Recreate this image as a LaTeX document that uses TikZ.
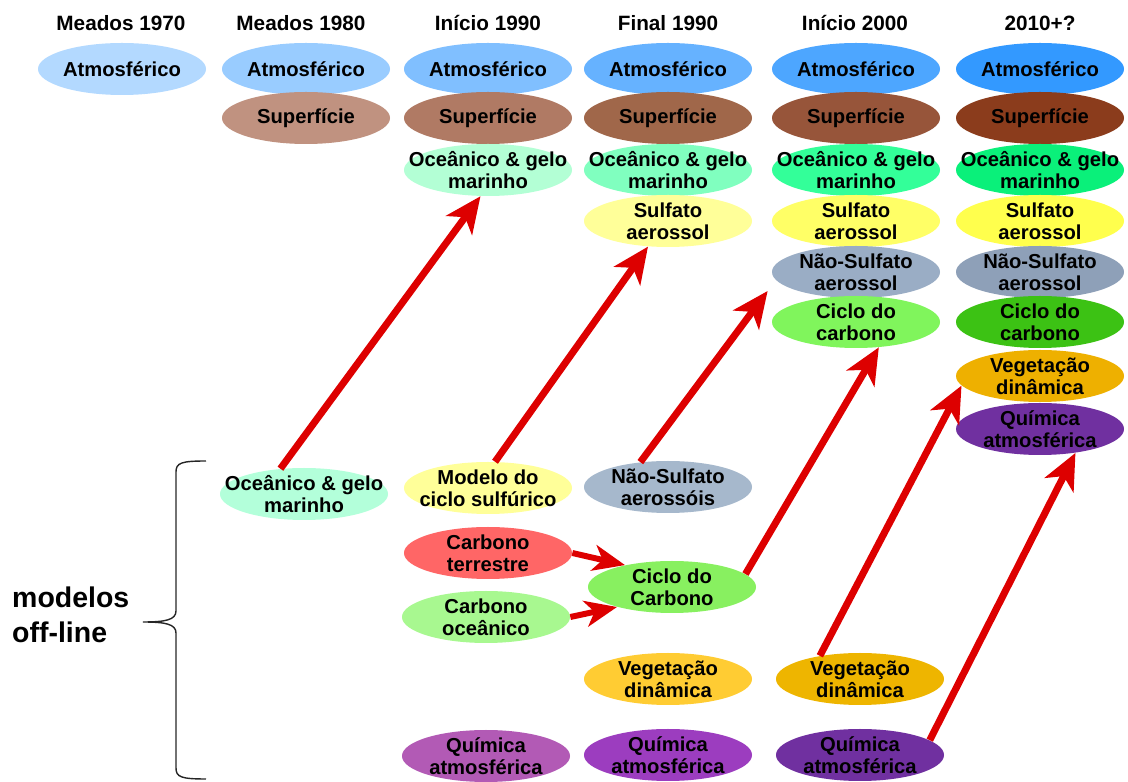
\documentclass[tikz,border=0pt]{standalone}
\usepackage{fontspec}
\setmainfont{Liberation Sans}
\usetikzlibrary{shapes.geometric,arrows.meta}

\definecolor{arrowred}{RGB}{221,0,0}
\definecolor{atmA}{HTML}{B3D9FF}
\definecolor{atmB}{HTML}{99CCFF}
\definecolor{atmC}{HTML}{80BFFF}
\definecolor{atmD}{HTML}{66B2FF}
\definecolor{atmE}{HTML}{4DA6FF}
\definecolor{atmF}{HTML}{3399FF}
\definecolor{supB}{HTML}{C09280}
\definecolor{supC}{HTML}{B07A64}
\definecolor{supD}{HTML}{A0674A}
\definecolor{supE}{HTML}{97553A}
\definecolor{supF}{HTML}{8B3C1C}
\definecolor{oceB}{HTML}{B3FFDA}
\definecolor{oceC}{HTML}{B3FFD5}
\definecolor{oceD}{HTML}{80FFBF}
\definecolor{oceE}{HTML}{33FF99}
\definecolor{oceF}{HTML}{0AF07A}
\definecolor{sulfC}{HTML}{FFFF99}
\definecolor{sulfD}{HTML}{FFFF99}
\definecolor{sulfE}{HTML}{FFFF66}
\definecolor{sulfF}{HTML}{FFFF4D}
\definecolor{naosD}{HTML}{A6B8CC}
\definecolor{naosE}{HTML}{9AADC5}
\definecolor{naosF}{HTML}{8EA0B8}
\definecolor{cicloD}{HTML}{88F060}
\definecolor{cicloE}{HTML}{80F55C}
\definecolor{cicloF}{HTML}{3CC214}
\definecolor{carbterr}{HTML}{FF6666}
\definecolor{carboce}{HTML}{A8F890}
\definecolor{vegD}{HTML}{FFCC33}
\definecolor{vegE}{HTML}{EEB500}
\definecolor{vegF}{HTML}{EEB000}
\definecolor{quimC}{HTML}{B25AB5}
\definecolor{quimD}{HTML}{9C3DBF}
\definecolor{quimE}{HTML}{7030A0}
\definecolor{quimF}{HTML}{7030A0}

\begin{document}
\begin{tikzpicture}[
    font=\bfseries\fontsize{11.5}{12.5}\selectfont,
    period/.style={font=\bfseries\fontsize{11.8}{13}\selectfont},
    comp/.style={ellipse, fill=#1, draw=none, align=center,
      minimum width=3.36cm, minimum height=1.04cm,
      inner xsep=-1.6cm, inner ysep=-0.6cm},
    flow/.style={draw=arrowred, line width=4pt,
      -{Stealth[length=0.72cm, width=0.64cm, inset=0.2cm]}},
    flowshort/.style={draw=arrowred, line width=3.4pt,
      -{Stealth[length=0.64cm, width=0.52cm, inset=0.18cm]}},
    bracket/.style={draw=black!85, line width=0.8pt},
    offlabel/.style={font=\bfseries\fontsize{16.2}{20}\selectfont, align=left},
  ]

  % Periods along the top.
  \node[period] (p70) at (2.42,15.18) {Meados 1970};
  \node[period] (p80) at (6.02,15.18) {Meados 1980};
  \node[period] (p90) at (9.76,15.18) {Início 1990};
  \node[period] (p98) at (13.36,15.18) {Final 1990};
  \node[period] (p00) at (17.10,15.18) {Início 2000};
  \node[period] (p10) at (20.80,15.18) {2010+?};

  % Coupled model components, one stack per period.
  \node[comp=atmA] (atm70) at (2.44,14.26) {Atmosférico};

  \node[comp=atmB] (atm80) at (6.12,14.26) {Atmosférico};
  \node[comp=supB] (sup80) at (6.12,13.28) {Superfície};

  \node[comp=atmC] (atm90) at (9.76,14.26) {Atmosférico};
  \node[comp=supC] (sup90) at (9.76,13.28) {Superfície};
  \node[comp=oceC] (oce90) at (9.76,12.24) {Oceânico \& gelo\\marinho};

  \node[comp=atmD] (atm98) at (13.36,14.26) {Atmosférico};
  \node[comp=supD] (sup98) at (13.36,13.28) {Superfície};
  \node[comp=oceD] (oce98) at (13.36,12.24) {Oceânico \& gelo\\marinho};
  \node[comp=sulfD] (sulf98) at (13.36,11.22) {Sulfato\\aerossol};

  \node[comp=atmE] (atm00) at (17.12,14.26) {Atmosférico};
  \node[comp=supE] (sup00) at (17.12,13.28) {Superfície};
  \node[comp=oceE] (oce00) at (17.12,12.24) {Oceânico \& gelo\\marinho};
  \node[comp=sulfE] (sulf00) at (17.12,11.22) {Sulfato\\aerossol};
  \node[comp=naosE] (naos00) at (17.12,10.20) {Não-Sulfato\\aerossol};
  \node[comp=cicloE] (ciclo00) at (17.12,9.20) {Ciclo do\\carbono};

  \node[comp=atmF] (atm10) at (20.80,14.26) {Atmosférico};
  \node[comp=supF] (sup10) at (20.80,13.28) {Superfície};
  \node[comp=oceF] (oce10) at (20.80,12.24) {Oceânico \& gelo\\marinho};
  \node[comp=sulfF] (sulf10) at (20.80,11.22) {Sulfato\\aerossol};
  \node[comp=naosF] (naos10) at (20.80,10.20) {Não-Sulfato\\aerossol};
  \node[comp=cicloF] (ciclo10) at (20.80,9.20) {Ciclo do\\carbono};
  \node[comp=vegF] (veg10) at (20.80,8.12) {Vegetação\\dinâmica};
  \node[comp=quimF] (quim10) at (20.80,7.06) {Química\\atmosférica};

  % Off-line models.
  \node[comp=oceB] (oceOff) at (6.08,5.76) {Oceânico \& gelo\\marinho};
  \node[comp=sulfC] (sulfModel) at (9.76,5.88) {Modelo do\\ciclo sulfúrico};
  \node[comp=carbterr] (carbTerr) at (9.76,4.58) {Carbono\\terrestre};
  \node[comp=carboce] (carbOce) at (9.72,3.30) {Carbono\\oceânico};
  \node[comp=quimC] (quim90off) at (9.72,0.52) {Química\\atmosférica};
  \node[comp=naosD] (naosOff) at (13.36,5.90) {Não-Sulfato\\aerossóis};
  \node[comp=cicloD] (cicloOff) at (13.44,3.90) {Ciclo do\\Carbono};
  \node[comp=vegD] (veg98off) at (13.36,2.06) {Vegetação\\dinâmica};
  \node[comp=quimD] (quim98off) at (13.36,0.54) {Química\\atmosférica};
  \node[comp=vegE] (veg00off) at (17.20,2.06) {Vegetação\\dinâmica};
  \node[comp=quimE] (quim00off) at (17.20,0.54) {Química\\atmosférica};

  % Brace grouping the off-line models.
  \draw[bracket] (4.12,6.42) .. controls (3.62,6.42) and (3.52,6.38) .. (3.52,6.20)
    -- (3.52,3.42) .. controls (3.52,3.24) and (3.30,3.20) .. (2.86,3.20)
    .. controls (3.30,3.20) and (3.52,3.16) .. (3.52,2.98)
    -- (3.52,0.28) .. controls (3.52,0.10) and (3.62,0.06) .. (4.12,0.06);
  \node[offlabel, anchor=west] (offline) at (0.12,3.35) {modelos\\off-line};

  % Coupling of off-line models into the full model.
  \draw[flow] (oceOff.133) -- (oce90.254);
  \draw[flow] (sulfModel.75) -- (sulf98.232);
  \draw[flow] (naosOff.138) -- ([xshift=-0.08cm,yshift=-0.38cm]naos00.west);
  \draw[flow] (cicloOff.10) -- (ciclo00.312);
  \draw[flow] (veg00off.150) -- (veg10.187);
  \draw[flow] (quim00off.12) -- (quim10.326);
  \draw[flowshort] (carbTerr.east) -- (cicloOff.155);
  \draw[flowshort] (carbOce.east) -- (cicloOff.200);

  \pgfresetboundingbox
  \path[use as bounding box] (0,0) rectangle (22.56,15.64);
\end{tikzpicture}
\end{document}
